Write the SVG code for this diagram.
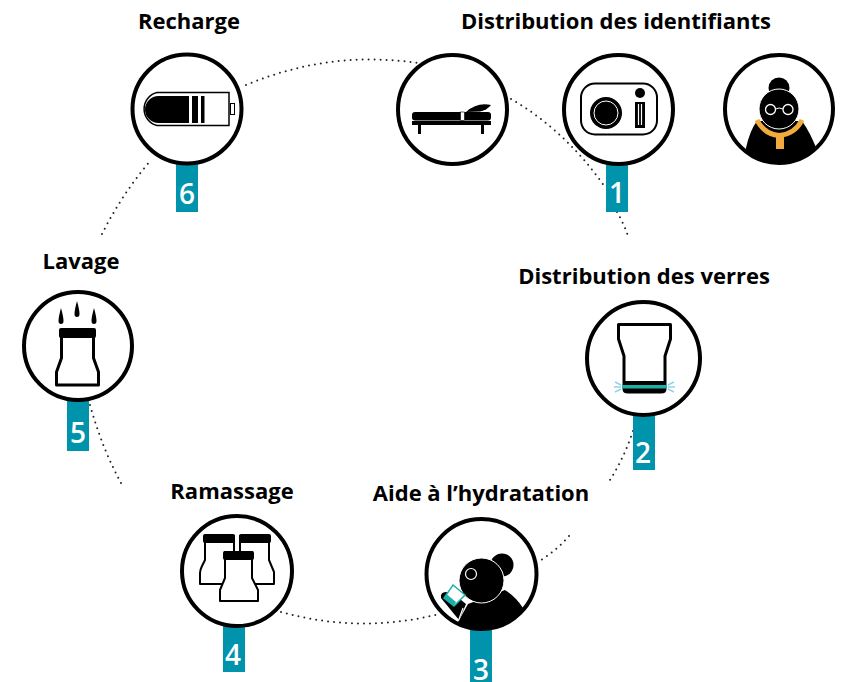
<svg xmlns="http://www.w3.org/2000/svg" width="845" height="682" viewBox="0 0 845 682">
<defs>
<clipPath id="clipR"><circle cx="779" cy="109" r="54"/></clipPath>
<clipPath id="clipD"><circle cx="481.500" cy="574" r="54"/></clipPath>
</defs>
<style>
.lbl{font:700 22px "Open Sans",sans-serif;fill:#000;text-anchor:middle}
.num{font:600 28px "Open Sans",sans-serif;fill:#fff;text-anchor:middle}
.ring{fill:#fff;stroke:#000;stroke-width:4}
.bar{fill:#0093ac}
.dot{fill:none;stroke:#222;stroke-width:2;stroke-linecap:round;stroke-dasharray:0 6}
.bot{fill:#fff;stroke:#000;stroke-width:2;stroke-linejoin:round}
</style>
<rect width="845" height="682" fill="#fff"/>
<g id="connectors">
<path class="dot" d="M102 234Q122 194 151 160"/>
<path class="dot" d="M246 85Q330 50 418 63"/>
<path class="dot" d="M511 99Q565 130 605 187"/>
<path class="dot" d="M617 212Q624 224 628 236"/>
<path class="dot" d="M633 431Q624 458 610 480"/>
<path class="dot" d="M569 536Q556 551 538 562"/>
<path class="dot" d="M281 612Q360 634 439 614"/>
<path class="dot" d="M90 405Q102 448 121 483"/>
</g>
<g id="node-recharge">
<rect class="bar" x="176" y="160" width="22" height="52"/>
<circle class="ring" cx="187" cy="109" r="54.500"/>
<text class="lbl" x="189" y="29">Recharge</text>
<text class="num" x="187" y="204">6</text>
<path d="M229 92.500H157A17 17 0 0 0 157 125.500H229Z" fill="#fff" stroke="#000" stroke-width="1.500"/>
<path d="M189 96H158.500A13.500 13.500 0 0 0 158.500 123H189Z"/>
<rect x="192" y="96" width="6" height="27"/><rect x="201" y="96" width="3.500" height="27"/>
<rect x="230.500" y="103.500" width="4" height="11" fill="#fff" stroke="#000"/>
</g>
<g id="node-bed">
<circle class="ring" cx="452.500" cy="109.500" r="54.500"/>
<rect x="412" y="112" width="79" height="8.500" rx="3"/>
<rect x="412" y="121" width="79" height="4"/>
<rect x="418" y="124" width="3" height="10"/><rect x="481" y="124" width="3" height="10"/>
<rect x="460.500" y="112" width="4" height="8.500" fill="#fff" stroke="#000" stroke-width=".6"/>
<path d="M466 112Q477 102 491 105Q487 110 480 111.500Z"/>
</g>
<g id="node-plate">
<rect class="bar" x="606" y="160" width="22" height="52"/>
<circle class="ring" cx="618.500" cy="109.500" r="54.500"/>
<text class="lbl" x="616" y="29">Distribution des identifiants</text>
<text class="num" x="617" y="203">1</text>
<rect x="581" y="83.500" width="76" height="51" rx="14" fill="#fff" stroke="#000" stroke-width="2"/>
<circle cx="606" cy="113" r="16"/><circle cx="606" cy="113" r="12" fill="none" stroke="#fff" stroke-width="1"/>
<circle cx="640" cy="93" r="5"/>
<rect x="635" y="102" width="10" height="26"/>
<path d="M638.500 104V125M641.500 104V125" stroke="#fff" stroke-width="1.200"/>
</g>
<g id="node-resident">
<circle class="ring" cx="779" cy="109" r="54"/>
<g clip-path="url(#clipR)">
<path d="M745 160L746 148Q750 130 757 121H802Q810 132 817 150V170H745Z"/>
</g>
<circle cx="779" cy="88" r="10.500"/>
<circle cx="779" cy="109" r="20" stroke="#fff" stroke-width="1"/>
<circle cx="770.500" cy="109.500" r="5" fill="none" stroke="#fff" stroke-width="1.300"/><circle cx="788" cy="109.500" r="5" fill="none" stroke="#fff" stroke-width="1.300"/>
<path d="M775.500 109Q779 107 783 109" fill="none" stroke="#fff"/>
<path d="M757 120Q764 134 779 135.500Q795 134 802 120" fill="none" stroke="#f0ab3c" stroke-width="5"/>
<rect x="776" y="135" width="8" height="14" fill="#f0ab3c"/>
</g>
<g id="node-glass">
<rect class="bar" x="633" y="410" width="22" height="60"/>
<circle class="ring" cx="643.500" cy="358.500" r="56.500"/>
<text class="lbl" x="644" y="284">Distribution des verres</text>
<text class="num" x="643" y="463">2</text>
<path d="M618.500 324.500H670.500V339L665 356V389Q665 392 661 392H628Q624 392 624 389V356L618.500 339Z" fill="#fff" stroke="#000" stroke-width="3" stroke-linejoin="round"/>
<path d="M623 381H666V389Q666 393 661 393H628Q623 393 623 389Z"/>
<rect x="622" y="385" width="45" height="3.500" fill="#1cb0a8"/>
<path d="M615 382L621 385M614 387H621M615 392L621 389M674 382L668 385M675 387H668M674 392L668 389" stroke="#8fd3ee" stroke-width="1.500" fill="none"/>
</g>
<g id="node-drink">
<rect class="bar" x="470" y="625" width="22" height="57"/>
<circle class="ring" cx="481.500" cy="574" r="55"/>
<text class="lbl" x="481" y="501">Aide à l’hydratation</text>
<text class="num" x="481" y="680">3</text>
<g clip-path="url(#clipD)">
<path d="M458 622L468 604L505 590Q516 597 523 608V640H458Z"/>
</g>
<circle cx="502" cy="565" r="11.500"/>
<circle cx="481.500" cy="580.500" r="22.500" stroke="#fff" stroke-width="1"/>
<circle cx="471" cy="574" r="5.500" fill="#000" stroke="#fff" stroke-width="1.200"/>
<path d="M441 598Q440 592 446 592L455 595L466 604L459 620Z"/>
<path d="M458.500 620.500L463 608" stroke="#fff" stroke-width="1.200"/>
<path d="M453 585L465 595L454 606L444 598Z" fill="#fff" stroke="#1cb0a8" stroke-width="1.500"/>
<path d="M444 598L447 594.500L456 602L454 606Z" fill="#1cb0a8"/>
</g>
<g id="node-collect">
<rect class="bar" x="223" y="620" width="22" height="52"/>
<circle class="ring" cx="237" cy="571" r="55"/>
<text class="lbl" x="232" y="499">Ramassage</text>
<text class="num" x="233" y="665">4</text>
<path d="M205 536H234V560L236 572V584H200V573Q200 570 202 566L205 560Z" class="bot"/><rect x="203" y="534" width="32" height="9" rx="2"/>
<path d="M240 536H269V560L274 572V584H238V572L240 560Z" class="bot"/><rect x="239" y="534" width="32" height="9" rx="2"/>
<path d="M225 552H252V578L258 590V601H220V590L225 578Z" class="bot"/><rect x="223" y="551" width="31" height="9" rx="2"/>
</g>
<g id="node-wash">
<rect class="bar" x="67" y="395" width="22" height="56"/>
<circle class="ring" cx="78" cy="346" r="54"/>
<text class="lbl" x="81" y="269">Lavage</text>
<text class="num" x="78" y="443">5</text>
<path d="M61.500 333H93.500V358L98.500 372V385H56.500V372L61.500 358Z" fill="#fff" stroke="#000" stroke-width="3" stroke-linejoin="round"/>
<rect x="59" y="328" width="37" height="10" rx="2"/>
<path d="M61 308Q63.500 317 63.500 321A2.500 3 0 0 1 58.500 321Q58.500 317 61 308Z"/>
<path d="M77 301Q79.500 310 79.500 314A2.500 3 0 0 1 74.500 314Q74.500 310 77 301Z"/>
<path d="M94 308Q96.500 317 96.500 321A2.500 3 0 0 1 91.500 321Q91.500 317 94 308Z"/>
</g>
</svg>
